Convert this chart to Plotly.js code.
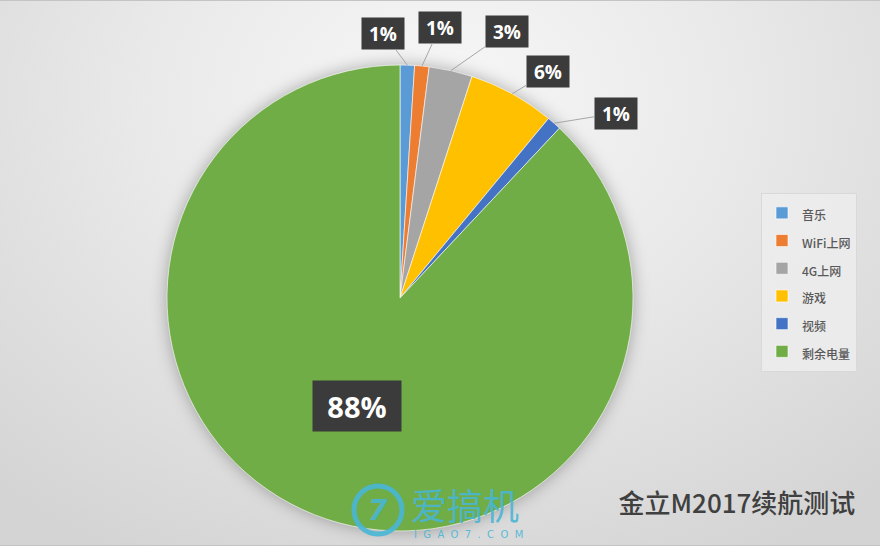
<!DOCTYPE html>
<html>
<head>
<meta charset="utf-8">
<script src="https://cdn.plot.ly/plotly-3.0.1.min.js"></script>
<style>
  html, body { margin: 0; padding: 0; }
  body {
    width: 880px; height: 546px; overflow: hidden;
    background: radial-gradient(ellipse 75% 95% at 50% 18%, #f7f7f7 0%, #e9e9e9 45%, #d4d4d4 100%);
  }
  #chart { width: 880px; height: 546px; box-sizing: border-box; border-top: 1px solid #c4c4c4; border-bottom: 1px solid #c4c4c4; }
  .pielayer { filter: drop-shadow(0 0 8px rgba(0,0,0,0.3)); }
</style>
</head>
<body>
<div id="chart"></div>
<script>
// ---- data ----
const categories = ["音乐", "WiFi上网", "4G上网", "游戏", "视频", "剩余电量"];
const values = [1, 1, 3, 6, 1, 88];
const percentLabels = ["1%", "1%", "3%", "6%", "1%", "88%"];
const colors = ["#5B9BD5", "#ED7D31", "#A5A5A5", "#FFC000", "#4472C4", "#70AD47"];
const chartTitle = "金立M2017续航测试";

// ---- layout constants ----
const W = 880, H = 546;
const CX = 400, CY = 297, R = 233;
// label box offsets (pixels, from slice edge point) for the outside labels
const labelOffsets = [[-24, -32], [18, -39], [56, -39], [36, -22], [62, -10], null];

const total = values.reduce((a, b) => a + b, 0);
const annotations = [];
let cum = 0;
values.forEach((v, i) => {
  const mid = (cum + v / 2) / total * 2 * Math.PI;
  cum += v;
  if (labelOffsets[i]) {
    const px = CX + R * Math.sin(mid), py = CY - R * Math.cos(mid);
    annotations.push({
      x: px / W, y: 1 - py / H, xref: 'paper', yref: 'paper',
      text: '<b>' + percentLabels[i] + '</b>',
      showarrow: true, arrowhead: 0, arrowwidth: 1, arrowcolor: '#a6a6a6',
      ax: labelOffsets[i][0], ay: labelOffsets[i][1],
      bgcolor: '#3b3b3b', width: 42, height: 31, borderpad: 0,
      font: { family: 'Open Sans, DejaVu Sans, sans-serif', size: 19, color: '#ffffff' }
    });
  } else {
    const px = CX + 0.5 * R * Math.sin(mid), py = CY - 0.5 * R * Math.cos(mid);
    annotations.push({
      x: px / W, y: 1 - py / H, xref: 'paper', yref: 'paper',
      xanchor: 'center', yanchor: 'middle',
      text: '<b>' + percentLabels[i] + '</b>', showarrow: false,
      bgcolor: '#3b3b3b', width: 88, height: 50, borderpad: 0,
      font: { family: 'Open Sans, DejaVu Sans, sans-serif', size: 29, color: '#ffffff' }
    });
  }
});

// watermark
const wm = 'rgba(72,182,214,0.9)';
annotations.push({
  x: 409 / W, y: 1 - 503 / H, xref: 'paper', yref: 'paper', xanchor: 'left', yanchor: 'middle',
  text: '爱搞机', showarrow: false,
  font: { family: 'Noto Sans CJK SC, sans-serif', size: 36, color: wm }
});
annotations.push({
  x: 468 / W, y: 1 - 533 / H, xref: 'paper', yref: 'paper', xanchor: 'center', yanchor: 'middle',
  text: 'I  G  A  O  7  .  C  O  M', showarrow: false,
  font: { family: 'DejaVu Sans, sans-serif', size: 10, color: wm }
});
annotations.push({
  x: 378 / W, y: 1 - 509 / H, xref: 'paper', yref: 'paper', xanchor: 'center', yanchor: 'middle',
  text: '<b><i>7</i></b>', showarrow: false,
  font: { family: 'DejaVu Sans, sans-serif', size: 28, color: wm }
});

const trace = {
  type: 'pie',
  labels: categories.map(c => '<span style="font-size:12px">' + c + '</span>'),
  values: values,
  marker: { colors: colors, line: { color: 'rgba(255,255,255,0.6)', width: 1 } },
  sort: false, direction: 'clockwise', rotation: 0,
  textinfo: 'none', hoverinfo: 'label+percent',
  domain: { x: [(CX - R) / W, (CX + R) / W], y: [1 - (CY + R) / H, 1 - (CY - R) / H] }
};

const layout = {
  width: W, height: H,
  margin: { l: 0, r: 0, t: 0, b: 0 },
  paper_bgcolor: 'rgba(0,0,0,0)', plot_bgcolor: 'rgba(0,0,0,0)',
  showlegend: true,
  legend: {
    x: 761 / W, y: 1 - 192 / H, xanchor: 'left', yanchor: 'top',
    bgcolor: 'rgba(236,236,236,0.9)', bordercolor: '#d9d9d9', borderwidth: 1,
    font: { family: 'Noto Sans CJK SC, sans-serif', size: 19, color: '#595959', weight: 500 },
    itemwidth: 30
  },
  title: {
    text: chartTitle, x: 0.972, xanchor: 'right', y: 1 - 503 / H, yanchor: 'middle',
    font: { family: 'Noto Sans CJK SC, sans-serif', size: 26, color: '#404040', weight: 500 }
  },
  shapes: [{
    type: 'circle', xref: 'paper', yref: 'paper',
    x0: 354 / W, x1: 402 / W, y0: 1 - 533 / H, y1: 1 - 485 / H,
    line: { color: wm, width: 5 }
  }],
  annotations: annotations
};

Plotly.newPlot('chart', [trace], layout, { displayModeBar: false, staticPlot: true });
</script>
</body>
</html>
